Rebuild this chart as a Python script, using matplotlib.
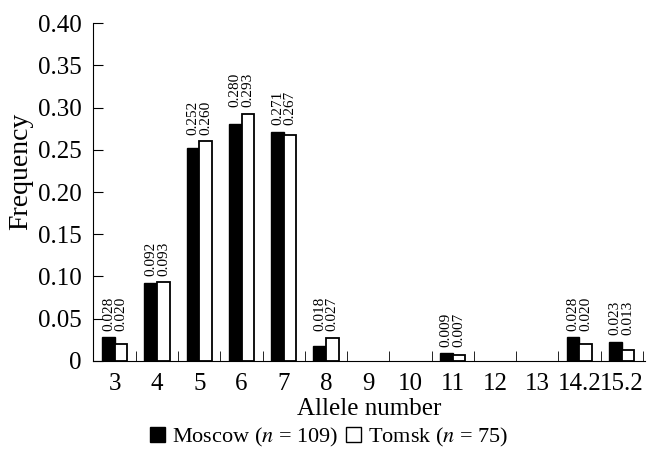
import numpy as np
import matplotlib
matplotlib.use("Agg")
import matplotlib.pyplot as plt
from matplotlib.patches import Patch

plt.rcParams['font.family'] = ['Liberation Serif', 'DejaVu Serif']
plt.rcParams['mathtext.fontset'] = 'stix'

alleles = ['3', '4', '5', '6', '7', '8', '9', '10', '11', '12', '13', '14.2', '15.2']
moscow = [0.028, 0.092, 0.252, 0.280, 0.271, 0.018, 0, 0, 0.009, 0, 0, 0.028, 0.023]
tomsk = [0.020, 0.093, 0.260, 0.293, 0.267, 0.027, 0, 0, 0.007, 0, 0, 0.020, 0.013]

fig = plt.figure(figsize=(6.54, 4.54), dpi=100)
ax = fig.add_axes([0.142, 0.205, 0.844, 0.744])

x = np.arange(len(alleles))
w = 0.3
m = np.array(moscow)
t = np.array(tomsk)
# zero-height bars get no outline so nothing shows on the baseline
ax.bar(x - w / 2, m, width=w, color='black', edgecolor='black',
       linewidth=np.where(m > 0, 1.0, 0))
ax.bar(x + w / 2, t, width=w, color='white', edgecolor='black',
       linewidth=np.where(t > 0, 1.3, 0))

# value labels above each pair
for i in range(len(alleles)):
    if moscow[i] == 0 and tomsk[i] == 0:
        continue
    top = max(moscow[i], tomsk[i]) + 0.008
    ax.text(x[i] - w / 2, top, f'{moscow[i]:.3f}', rotation=90, ha='center', va='bottom', fontsize=11)
    ax.text(x[i] + w / 2, top, f'{tomsk[i]:.3f}', rotation=90, ha='center', va='bottom', fontsize=11)

ax.set_xlim(-0.52, 12.55)
ax.set_ylim(0, 0.40)
ax.spines['top'].set_visible(False)
ax.spines['right'].set_visible(False)

yt = np.arange(0, 0.401, 0.05)
ax.set_yticks(yt)
ax.set_yticklabels(['0'] + [f'{v:.2f}' for v in yt[1:]])
ax.tick_params(axis='y', direction='in', length=7, pad=8, labelsize=18)

ax.set_xticks(x)
ax.set_xticklabels(alleles)
ax.set_xticks(x + 0.5, minor=True)
ax.tick_params(axis='x', which='major', length=0, pad=9, labelsize=18)
ax.tick_params(axis='x', which='minor', direction='in', length=7)

ax.set_ylabel('Frequency', fontsize=20)
ax.yaxis.set_label_coords(-0.108, 0.56)
ax.set_xlabel('Allele number', fontsize=18, labelpad=2)

handles = [Patch(facecolor='black', edgecolor='black'),
           Patch(facecolor='white', edgecolor='black')]
fig.legend(handles, ['Moscow ($n$ = 109)', 'Tomsk ($n$ = 75)'], loc='center',
           bbox_to_anchor=(0.503, 0.037), ncol=2, frameon=False, fontsize=16,
           handlelength=0.7, handleheight=0.7, handletextpad=0.3, columnspacing=0.35)

fig.savefig('out.png', dpi=100)
